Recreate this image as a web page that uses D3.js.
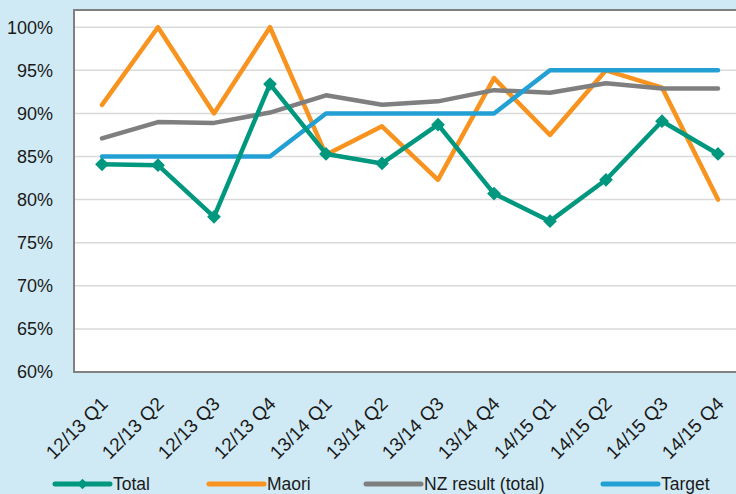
<!DOCTYPE html>
<html>
<head>
<meta charset="utf-8">
<script src="https://cdn.jsdelivr.net/npm/d3@7"></script>
<style>
  html, body { margin: 0; padding: 0; background: #d0eaf5; }
  svg { display: block; font-family: 'Liberation Sans', Arial, sans-serif; }
</style>
</head>
<body>
<svg id="chart" width="736" height="494"></svg>
<script>
// ---- data ----
const quarters = ['12/13 Q1', '12/13 Q2', '12/13 Q3', '12/13 Q4',
                  '13/14 Q1', '13/14 Q2', '13/14 Q3', '13/14 Q4',
                  '14/15 Q1', '14/15 Q2', '14/15 Q3', '14/15 Q4'];
const total  = [84.1, 84.0, 78.0, 93.4, 85.3, 84.2, 88.7, 80.7, 77.5, 82.3, 89.1, 85.3];
const maori  = [91.0, 100, 90.0, 100, 85.2, 88.5, 82.3, 94.1, 87.5, 95.0, 93.0, 80.0];
const nzTotal = [87.1, 89.0, 88.9, 90.1, 92.1, 91.0, 91.4, 92.7, 92.4, 93.5, 92.9, 92.9];
const target = [85, 85, 85, 85, 90, 90, 90, 90, 95, 95, 95, 95];
const yTicks = [60, 65, 70, 75, 80, 85, 90, 95, 100];

const series = [
  { name: 'Total', values: total, color: '#00977f', marker: true },
  { name: 'Maori', values: maori, color: '#f7931e', marker: false },
  { name: 'NZ result (total)', values: nzTotal, color: '#7f7f7f', marker: false },
  { name: 'Target', values: target, color: '#22a0d3', marker: false }
];
// draw order (back to front)
const drawOrder = ['Maori', 'NZ result (total)', 'Target', 'Total'];

// ---- layout ----
const svg = d3.select('#chart');
const plot = { left: 74, right: 746, top: 10, bottom: 372 };

const x = d3.scaleBand().domain(quarters).range([plot.left, plot.right]);
const y = d3.scaleLinear().domain([60, 102]).range([plot.bottom, plot.top]);
const cx = d => x(d) + x.bandwidth() / 2;

// plot background
svg.append('rect')
  .attr('x', plot.left).attr('y', plot.top)
  .attr('width', plot.right - plot.left).attr('height', plot.bottom - plot.top)
  .attr('fill', '#fff');

// gridlines
svg.append('g').selectAll('line')
  .data(yTicks.filter(t => t > 60)).enter().append('line')
    .attr('x1', plot.left).attr('x2', plot.right)
    .attr('y1', d => y(d)).attr('y2', d => y(d))
    .attr('stroke', '#d9d9d9').attr('stroke-width', 1.5);

// border (left, top, bottom)
svg.append('path')
  .attr('d', `M${plot.right},${plot.top}H${plot.left}V${plot.bottom}H${plot.right}`)
  .attr('fill', 'none').attr('stroke', '#808080').attr('stroke-width', 2);

// y axis labels
svg.append('g').selectAll('text')
  .data(yTicks).enter().append('text')
    .attr('x', 53).attr('y', d => y(d)).attr('dy', '0.35em')
    .attr('text-anchor', 'end')
    .attr('font-size', 18).attr('fill', '#1a1a1a')
    .text(d => d + '%');

// x axis labels (rotated)
svg.append('g').selectAll('text')
  .data(quarters).enter().append('text')
    .attr('transform', d => `translate(${cx(d) + 7},${405}) rotate(-45)`)
    .attr('text-anchor', 'end')
    .attr('font-size', 19).attr('fill', '#1a1a1a')
    .text(d => d);

// lines
const line = d3.line()
  .x((d, i) => cx(quarters[i]))
  .y(d => y(d));

const diamond = d3.symbol().type(d3.symbolSquare);

drawOrder.forEach(name => {
  const s = series.find(d => d.name === name);
  svg.append('path')
    .datum(s.values)
    .attr('d', line)
    .attr('fill', 'none')
    .attr('stroke', s.color)
    .attr('stroke-width', 4.5)
    .attr('stroke-linejoin', 'round')
    .attr('stroke-linecap', 'round');
  if (s.marker) {
    svg.append('g').selectAll('path')
      .data(s.values).enter().append('path')
        .attr('d', diamond.size(95))
        .attr('transform', (d, i) => `translate(${cx(quarters[i])},${y(d)}) rotate(45)`)
        .attr('fill', s.color);
  }
});

// legend
const legendX = [55, 209, 366, 603];
const legendY = 484;
const lg = svg.append('g');
series.forEach((s, i) => {
  const g = lg.append('g').attr('transform', `translate(${legendX[i]},${legendY})`);
  g.append('line')
    .attr('x1', 0).attr('x2', 55)
    .attr('stroke', s.color).attr('stroke-width', 5)
    .attr('stroke-linecap', 'round');
  if (s.marker) {
    g.append('path')
      .attr('d', d3.symbol().type(d3.symbolSquare).size(55))
      .attr('transform', 'translate(27.5,0) rotate(45)')
      .attr('fill', s.color);
  }
  g.append('text')
    .attr('x', 58).attr('dy', '0.35em')
    .attr('font-size', 17.5).attr('fill', '#1a1a1a')
    .text(s.name);
});
</script>
</body>
</html>
